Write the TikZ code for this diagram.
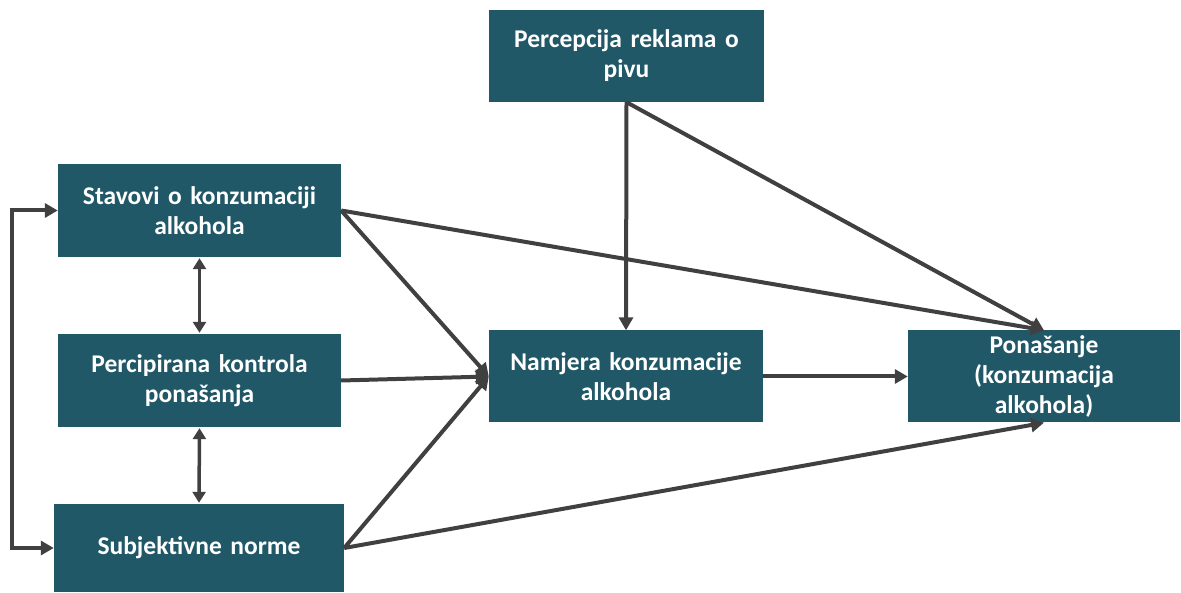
\documentclass[tikz,border=0pt]{standalone}
\usepackage{fontspec}
\setmainfont{Carlito}
\usetikzlibrary{arrows.meta}
\definecolor{boxteal}{HTML}{215868}
\definecolor{arrowgray}{HTML}{404040}
\tikzset{
  box/.style={fill=boxteal, draw=none, text=white, font=\fontsize{25.5}{30}\selectfont\bfseries, align=center, inner sep=0pt},
  conn/.style={draw=arrowgray, line width=4pt, -{Triangle[length=13pt,width=14pt]}},
  dconn/.style={draw=arrowgray, line width=3.5pt, {Triangle[length=11pt,width=13pt]}-{Triangle[length=11pt,width=13pt]}, shorten <=1pt, shorten >=1pt}
}
\begin{document}
\begin{tikzpicture}[x=1pt,y=-1pt]
\useasboundingbox (0,0) rectangle (1181,593);
\node[box, minimum width=283pt, minimum height=93pt, text width=275pt] (stav) at (199.5,210.5) {Stavovi o konzumaciji\\alkohola};
\node[box, minimum width=283pt, minimum height=93pt, text width=275pt] (perc) at (199.5,380.5) {Percipirana kontrola\\ponašanja};
\node[box, minimum width=290pt, minimum height=88pt, text width=275pt] (subj) at (199,548) {Subjektivne norme};
\node[box, minimum width=275pt, minimum height=92pt, text width=268pt] (rekl) at (626.5,56) {Percepcija reklama o\\pivu};
\node[box, minimum width=274pt, minimum height=92pt, text width=268pt] (namj) at (626,376.5) {Namjera konzumacije\\alkohola};
\node[box, minimum width=272pt, minimum height=92pt, text width=265pt] (pona) at (1044,376.5) {Ponašanje\\(konzumacija\\alkohola)};
\coordinate (lb) at (12,0);
\draw[conn, {Triangle[length=13pt,width=14pt]}-{Triangle[length=13pt,width=14pt]}] (stav.west) -- (stav.west -| lb) -- (subj.west -| lb) -- (subj.west);
\draw[dconn] (stav.south) -- (perc.north);
\draw[dconn] (perc.south) -- (subj.north);
\draw[conn] (stav.east) -- (namj.west);
\draw[conn] (perc.east) -- (namj.west);
\draw[conn] (subj.east) -- (namj.west);
\draw[conn] (stav.east) -- (pona.north);
\draw[conn] (subj.east) -- (pona.south);
\draw[conn] (rekl.south) -- (namj.north);
\draw[conn] (rekl.south) -- (pona.north);
\draw[conn] (namj.east) -- (pona.west);
\end{tikzpicture}
\end{document}
